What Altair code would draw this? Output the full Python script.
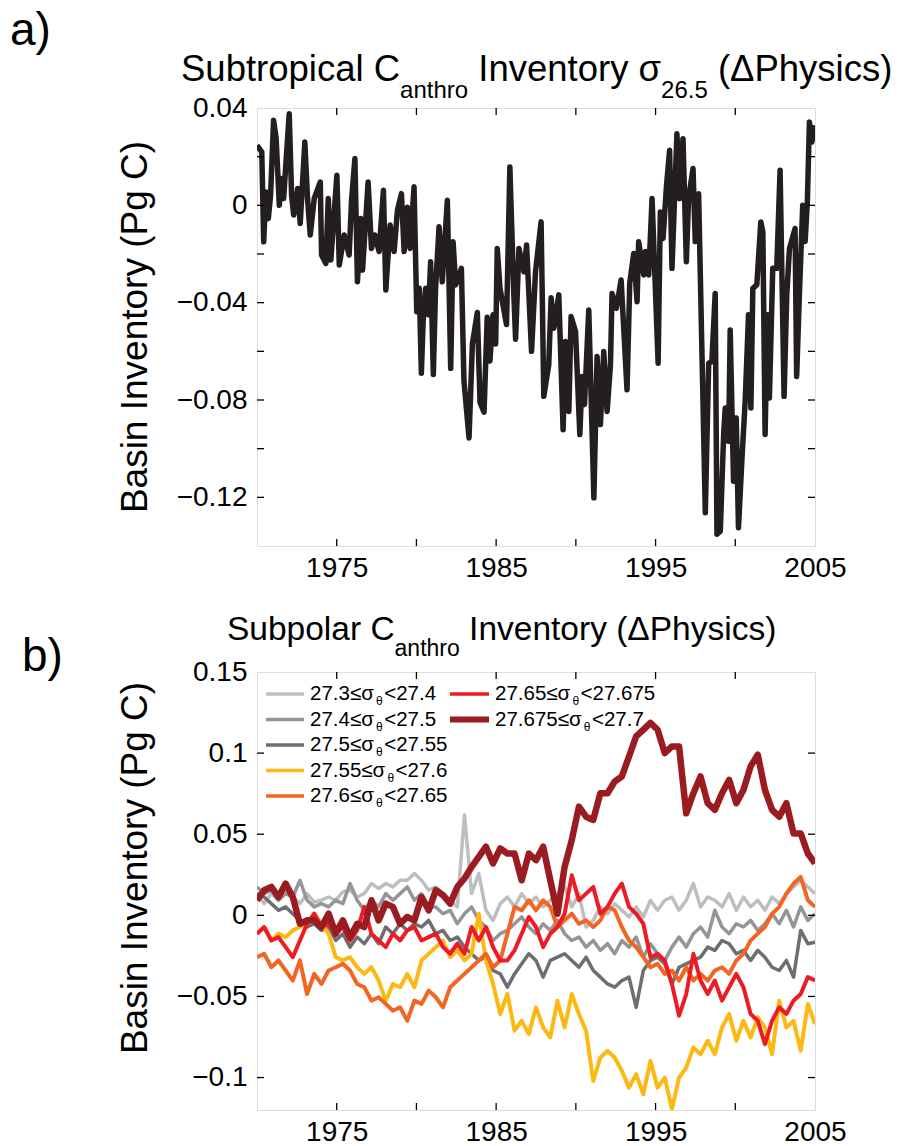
import altair as alt
import pandas as pd

# ---------------- data ----------------
# Panel a: subtropical inventory (time in years, value in Pg C)
YEARS_A = [1970.00, 1970.30, 1970.42, 1970.56, 1970.71, 1970.85, 1971.04, 1971.20, 1971.40, 1971.55,
           1971.67, 1971.82, 1972.02, 1972.17, 1972.30, 1972.55, 1972.71, 1973.00, 1973.17, 1973.34,
           1973.59, 1973.97, 1974.05, 1974.32, 1974.47, 1974.63, 1975.01, 1975.16, 1975.47, 1975.78,
           1975.93, 1976.14, 1976.30, 1976.51, 1976.62, 1976.97, 1977.18, 1977.39, 1977.66, 1977.93,
           1978.08, 1978.35, 1978.60, 1978.81, 1979.06, 1979.23, 1979.43, 1979.60, 1979.85, 1980.02,
           1980.18, 1980.31, 1980.42, 1980.58, 1980.75, 1980.89, 1981.06, 1981.20, 1981.42, 1981.62,
           1981.94, 1982.15, 1982.30, 1982.46, 1982.82, 1982.98, 1983.30, 1983.51, 1983.82, 1983.99,
           1984.24, 1984.44, 1984.61, 1984.80, 1984.97, 1985.07, 1985.24, 1985.65, 1985.86, 1986.11,
           1986.22, 1986.43, 1986.74, 1986.91, 1987.22, 1987.47, 1987.82, 1987.99, 1988.30, 1988.45,
           1988.62, 1988.93, 1989.20, 1989.35, 1989.56, 1989.70, 1989.98, 1990.25, 1990.39, 1990.54,
           1990.81, 1991.13, 1991.33, 1991.54, 1991.75, 1991.96, 1992.17, 1992.27, 1992.54, 1992.84,
           1993.21, 1993.38, 1993.63, 1993.84, 1993.94, 1994.26, 1994.36, 1994.57, 1994.78, 1995.16,
           1995.30, 1995.47, 1995.68, 1995.88, 1996.03, 1996.34, 1996.51, 1996.72, 1996.93, 1997.07,
           1997.35, 1997.49, 1997.70, 1998.12, 1998.33, 1998.53, 1998.74, 1998.85, 1999.06, 1999.27,
           1999.37, 1999.58, 1999.68, 1999.89, 2000.06, 2000.20, 2000.41, 2000.62, 2000.83, 2000.98,
           2001.10, 2001.35, 2001.60, 2001.73, 2001.87, 2002.02, 2002.14, 2002.35, 2002.60, 2002.81,
           2003.06, 2003.23, 2003.40, 2003.75, 2003.85, 2004.02, 2004.23, 2004.38, 2004.52, 2004.65,
           2004.80, 2004.95]
VALS_A = [0.0247, 0.0219, -0.0150, 0.0055, -0.0054, 0.0040, 0.0350, 0.0274, 0.0000, 0.0110,
          0.0028, 0.0178, 0.0376, 0.0042, -0.0040, 0.0069, -0.0075, 0.0260, 0.0028, -0.0122,
          0.0028, 0.0096, -0.0204, -0.0239, 0.0028, -0.0225, 0.0124, -0.0245, -0.0122, -0.0204,
          0.0021, 0.0192, -0.0314, -0.0054, -0.0266, 0.0096, -0.0177, -0.0122, -0.0190, 0.0062,
          -0.0348, -0.0081, -0.0190, -0.0020, 0.0048, -0.0190, -0.0008, -0.0177, 0.0076, -0.0437,
          -0.0341, -0.0690, -0.0478, -0.0341, -0.0450, -0.0232, -0.0695, -0.0341, -0.0088, -0.0314,
          0.0021, -0.0670, -0.0150, -0.0327, -0.0259, -0.0720, -0.0956, -0.0570, -0.0440, -0.0810,
          -0.0850, -0.0460, -0.0640, -0.0450, -0.0570, -0.0177, -0.0341, -0.0490, 0.0158, -0.0368,
          -0.0550, -0.0177, -0.0273, -0.0163, -0.0600, -0.0273, -0.0068, -0.0785, -0.0655, -0.0380,
          -0.0505, -0.0368, -0.0922, -0.0560, -0.0847, -0.0457, -0.0519, -0.0942, -0.0703, -0.0819,
          -0.0430, -0.1202, -0.0621, -0.0901, -0.0601, -0.0847, -0.0655, -0.0362, -0.0423, -0.0307,
          -0.0758, -0.0320, -0.0198, -0.0396, -0.0150, -0.0286, -0.0190, -0.0286, 0.0028, -0.0649,
          -0.0027, -0.0136, 0.0076, 0.0226, -0.0259, 0.0294, 0.0028, 0.0274, -0.0232, 0.0028,
          0.0151, -0.0149, 0.0048, -0.1263, -0.0649, -0.0642, -0.0362, -0.1352, -0.1339, -0.0942,
          -0.0833, -0.0970, -0.0512, -0.1134, -0.0874, -0.1325, -0.1052, -0.0806, -0.0450, -0.0833,
          -0.0341, -0.0327, -0.0068, -0.0109, -0.0942, -0.0450, -0.0792, -0.0259, -0.0259, 0.0144,
          -0.0785, -0.0368, -0.0177, -0.0095, -0.0703, -0.0368, 0.0000, -0.0149, 0.0014, 0.0342,
          0.0260, 0.0330]

# Panel b: subpolar inventory per density class, evenly spaced samples 1970-2005
SIGMA_LO = ["27.3", "27.4", "27.5", "27.55", "27.6", "27.65", "27.675"]
SIGMA_HI = ["27.4", "27.5", "27.55", "27.6", "27.65", "27.675", "27.7"]

B_27_3 = [0.0134, 0.0072, 0.0134, 0.0093, 0.0175, 0.0113, 0.0072, 0.0134, 0.0082, 0.0093,
          0.0113, 0.0093, 0.0144, 0.0155, 0.0113, 0.0134, 0.0196, 0.0165, 0.0196, 0.0175,
          0.0216, 0.0216, 0.0258, 0.0216, 0.0155, 0.0175, 0.0134, 0.0093, 0.0052, 0.0619,
          0.0134, 0.0258, 0.0031, -0.0031, 0.0072, 0.0113, 0.0052, 0.0134, 0.0072, 0.0113,
          0.0052, 0.0093, 0.0134, 0.0175, 0.0052, 0.0134, -0.0072, -0.0031, 0.0052, 0.0010,
          0.0072, 0.0031, -0.0010, 0.0052, -0.0010, 0.0093, 0.0031, 0.0093, 0.0113, 0.0031,
          0.0093, 0.0196, 0.0052, 0.0113, 0.0093, 0.0052, 0.0134, 0.0031, 0.0113, 0.0052,
          0.0093, 0.0031, 0.0113, 0.0072, 0.0134, 0.0175, 0.0216, 0.0175, 0.0134]
B_27_4 = [0.0175, 0.0134, 0.0155, 0.0093, 0.0134, 0.0113, 0.0216, 0.0093, 0.0052, 0.0072,
          0.0052, 0.0093, 0.0072, 0.0196, 0.0093, 0.0031, 0.0093, 0.0052, 0.0134, 0.0093,
          0.0134, 0.0175, 0.0093, 0.0134, 0.0052, 0.0052, 0.0010, 0.0031, -0.0052, 0.0010,
          0.0052, -0.0031, -0.0072, -0.0155, -0.0113, -0.0093, -0.0052, -0.0010, -0.0072, -0.0113,
          -0.0052, -0.0093, -0.0031, -0.0113, -0.0155, -0.0134, -0.0196, -0.0155, -0.0216, -0.0175,
          -0.0237, -0.0155, -0.0196, -0.0134, -0.0258, -0.0175, -0.0237, -0.0278, -0.0196, -0.0134,
          -0.0196, -0.0113, -0.0072, -0.0134, 0.0031, -0.0072, -0.0113, -0.0052, -0.0072, -0.0031,
          -0.0093, -0.0052, 0.0010, -0.0052, 0.0031, -0.0072, 0.0052, -0.0031, 0.0010]
B_27_5 = [0.0134, 0.0113, 0.0072, 0.0031, 0.0052, 0.0010, -0.0031, -0.0072, -0.0052, -0.0093,
          -0.0072, -0.0155, -0.0113, -0.0196, -0.0134, -0.0175, -0.0113, -0.0175, -0.0072, -0.0113,
          -0.0052, -0.0093, -0.0052, -0.0072, -0.0031, -0.0113, -0.0093, -0.0155, -0.0134, -0.0196,
          -0.0237, -0.0278, -0.0258, -0.0340, -0.0361, -0.0443, -0.0361, -0.0299, -0.0237, -0.0278,
          -0.0381, -0.0278, -0.0258, -0.0237, -0.0278, -0.0320, -0.0258, -0.0340, -0.0381, -0.0423,
          -0.0443, -0.0402, -0.0381, -0.0567, -0.0340, -0.0278, -0.0258, -0.0299, -0.0423, -0.0320,
          -0.0299, -0.0278, -0.0258, -0.0196, -0.0216, -0.0155, -0.0175, -0.0237, -0.0216, -0.0278,
          -0.0216, -0.0258, -0.0320, -0.0340, -0.0278, -0.0381, -0.0093, -0.0175, -0.0165]
B_27_55 = [-0.0113, -0.0072, -0.0155, -0.0113, -0.0134, -0.0093, -0.0072, -0.0052, 0.0010, -0.0052,
           -0.0113, -0.0258, -0.0278, -0.0258, -0.0320, -0.0361, -0.0320, -0.0402, -0.0526, -0.0423,
           -0.0443, -0.0361, -0.0443, -0.0278, -0.0237, -0.0196, -0.0155, -0.0258, -0.0216, -0.0278,
           -0.0237, 0.0010, -0.0278, -0.0423, -0.0608, -0.0485, -0.0711, -0.0650, -0.0732, -0.0567,
           -0.0691, -0.0753, -0.0526, -0.0691, -0.0485, -0.0608, -0.0711, -0.1021, -0.0876, -0.0835,
           -0.0876, -0.0959, -0.1062, -0.0979, -0.1103, -0.0897, -0.1062, -0.1000, -0.1196, -0.1000,
           -0.0938, -0.0814, -0.0856, -0.0773, -0.0856, -0.0691, -0.0608, -0.0773, -0.0650, -0.0753,
           -0.0629, -0.0691, -0.0856, -0.0526, -0.0691, -0.0650, -0.0835, -0.0546, -0.0670]
B_27_6 = [-0.0258, -0.0237, -0.0320, -0.0278, -0.0340, -0.0402, -0.0278, -0.0485, -0.0361, -0.0423,
          -0.0340, -0.0320, -0.0299, -0.0340, -0.0423, -0.0443, -0.0526, -0.0505, -0.0546, -0.0588,
          -0.0567, -0.0650, -0.0526, -0.0546, -0.0464, -0.0505, -0.0567, -0.0443, -0.0402, -0.0361,
          -0.0320, -0.0278, -0.0237, -0.0320, -0.0278, -0.0113, 0.0052, 0.0031, 0.0093, 0.0031,
          0.0093, 0.0052, -0.0072, -0.0031, 0.0010, -0.0052, -0.0031, -0.0072, -0.0031, 0.0052,
          0.0031, -0.0072, -0.0155, -0.0196, -0.0258, -0.0320, -0.0299, -0.0361, -0.0340, -0.0402,
          -0.0320, -0.0402, -0.0361, -0.0402, -0.0340, -0.0320, -0.0361, -0.0278, -0.0237, -0.0155,
          -0.0113, -0.0072, 0.0010, 0.0052, 0.0134, 0.0196, 0.0237, 0.0093, 0.0052]
B_27_65 = [-0.0113, -0.0072, -0.0155, -0.0134, -0.0196, -0.0258, -0.0155, -0.0052, 0.0010, -0.0072,
           -0.0052, -0.0113, -0.0072, -0.0155, -0.0093, 0.0052, -0.0113, -0.0155, -0.0196, -0.0113,
           -0.0155, -0.0093, -0.0072, -0.0155, -0.0134, -0.0113, -0.0196, -0.0237, -0.0175, -0.0237,
           -0.0072, -0.0155, -0.0072, -0.0196, -0.0278, -0.0278, -0.0216, -0.0113, -0.0010, -0.0072,
           -0.0196, -0.0113, -0.0072, 0.0010, 0.0247, 0.0093, 0.0134, 0.0175, 0.0010, 0.0052,
           0.0134, 0.0196, 0.0052, 0.0010, -0.0052, -0.0258, -0.0237, -0.0278, -0.0423, -0.0619,
           -0.0485, -0.0237, -0.0402, -0.0485, -0.0402, -0.0526, -0.0443, -0.0361, -0.0443, -0.0608,
           -0.0650, -0.0794, -0.0650, -0.0567, -0.0608, -0.0526, -0.0485, -0.0381, -0.0402]
B_27_675 = [0.0093, 0.0155, 0.0175, 0.0113, 0.0196, 0.0113, -0.0052, -0.0031, -0.0031, -0.0072,
            0.0010, -0.0113, -0.0031, -0.0134, -0.0052, -0.0072, 0.0093, -0.0031, 0.0072, 0.0052,
            -0.0052, -0.0010, -0.0031, 0.0113, 0.0031, 0.0155, 0.0124, 0.0072, 0.0175, 0.0227,
            0.0299, 0.0361, 0.0423, 0.0320, 0.0412, 0.0381, 0.0381, 0.0216, 0.0381, 0.0340,
            0.0423, 0.0216, 0.0010, 0.0299, 0.0464, 0.0670, 0.0608, 0.0588, 0.0753, 0.0753,
            0.0825, 0.0856, 0.0979, 0.1103, 0.1144, 0.1186, 0.1144, 0.1000, 0.1041, 0.1041,
            0.0629, 0.0753, 0.0856, 0.0691, 0.0650, 0.0753, 0.0835, 0.0691, 0.0773, 0.0918,
            0.0990, 0.0773, 0.0650, 0.0608, 0.0691, 0.0505, 0.0505, 0.0381, 0.0320]
SERIES_B = [B_27_3, B_27_4, B_27_5, B_27_55, B_27_6, B_27_65, B_27_675]

X_LABELS = [1975, 1985, 1995, 2005]
X_TICKS = [1975, 1980, 1985, 1990, 1995, 2000]
YA_LABELS = [0.04, 0, -0.04, -0.08, -0.12]
YA_TICKS = [-0.12, -0.10, -0.08, -0.06, -0.04, -0.02, 0.0, 0.02]
YB_LABELS = [0.15, 0.1, 0.05, 0, -0.05, -0.1]
YB_TICKS = [-0.1, -0.05, 0.0, 0.05, 0.1]

# ---------------- styling ----------------
FONT = "Liberation Sans"
LINE_COLORS = ["#BCBEC0", "#939598", "#6D6E71", "#FDB913", "#F26522", "#ED1C24", "#9B1C20"]
LINE_WIDTHS = [3.5, 3.5, 3.5, 4, 4, 4, 6.5]
W, H = 558, 438
TICK = 7
LABEL_SIZE = 28
ONE = pd.DataFrame({"k": [0]})

CW = {' ': 278, '(': 333, ')': 333, '.': 278, '<': 584, '\u2264': 584, 'C': 722, 'I': 278,
      'P': 667, 'S': 667, '\u0394': 668, 'a': 556, 'b': 556, 'c': 500, 'e': 556, 'h': 556,
      'i': 222, 'l': 222, 'n': 556, 'o': 556, 'p': 556, 'r': 333, 's': 500, 't': 278,
      'u': 556, 'v': 500, 'y': 500, '\u03c3': 617, '\u03b8': 556}


def tw(s, size):
    return sum(CW.get(ch, 556) for ch in s) * size / 1000.0


def text_layer(s, x, y, size, align="left", baseline="alphabetic", angle=0, font=FONT):
    return alt.Chart(ONE).mark_text(
        text=s, align=align, baseline=baseline, fontSize=size, font=font,
        color="black", angle=angle
    ).encode(x=alt.value(x), y=alt.value(y))


def rich(pieces, x0, y, size, subsize, subdy, baseline="alphabetic", gap=0.0):
    layers = []
    x = x0
    for s, sub in pieces:
        sz = subsize if sub else size
        body = s.lstrip(" ")
        x += tw(s[: len(s) - len(body)], sz)
        if sub:
            x += gap
        layers.append(text_layer(body, x, y + (subdy if sub else 0), sz, baseline=baseline))
        x += tw(body, sz)
        if sub:
            x += gap
    return layers


xs = alt.Scale(domain=[1970, 2005], nice=False, zero=False)
axX = alt.Axis(values=X_LABELS, format="d", title=None, ticks=False, domain=False, grid=False,
               labelFontSize=LABEL_SIZE, labelFont=FONT, labelColor="black", labelPadding=8,
               labelFlush=False)


def y_axis(vals):
    return alt.Axis(values=vals, format=".2~f", title=None, ticks=False, domain=False, grid=False,
                    labelFontSize=LABEL_SIZE, labelFont=FONT, labelColor="black", labelPadding=10)


def tick_layers(ys, axY, yticks):
    dx = pd.DataFrame({"t": X_TICKS})
    dy = pd.DataFrame({"t": yticks})
    base_x = alt.X("t:Q", scale=xs, axis=axX)
    base_y = alt.Y("t:Q", scale=ys, axis=axY)
    return [
        alt.Chart(dx).mark_rule(color="black", strokeWidth=1.3).encode(
            x=base_x, y=alt.value(H), y2=alt.value(H - TICK)),
        alt.Chart(dx).mark_rule(color="black", strokeWidth=1.3).encode(
            x=base_x, y=alt.value(0), y2=alt.value(TICK)),
        alt.Chart(dy).mark_rule(color="black", strokeWidth=1.3).encode(
            y=base_y, x=alt.value(0), x2=alt.value(TICK)),
        alt.Chart(dy).mark_rule(color="black", strokeWidth=1.3).encode(
            y=base_y, x=alt.value(W), x2=alt.value(W - TICK)),
    ]


# ---------------- panel a ----------------
ysA = alt.Scale(domain=[-0.14, 0.04], nice=False, zero=False)
axYA = y_axis(YA_LABELS)
dfA = pd.DataFrame({"year": YEARS_A, "v": VALS_A})
lineA = alt.Chart(dfA).mark_line(color="#231F20", strokeWidth=5.5, strokeJoin="round", clip=True).encode(
    x=alt.X("year:Q", scale=xs, axis=axX), y=alt.Y("v:Q", scale=ysA, axis=axYA))

layersA = [lineA] + tick_layers(ysA, axYA, YA_TICKS)
layersA += rich([("Subtropical C", False), ("anthro", True), (" Inventory \u03c3", False),
                 ("26.5", True), (" (\u0394Physics)", False)], -76, -27, 36.5, 24, 17)
layersA.append(text_layer("Basin Inventory (Pg C)", -121, H / 2, 37, align="center",
                          baseline="middle", angle=270))
layersA.append(text_layer("a)", -247, -99, 46, baseline="top",
                          font="Liberation Sans Narrow, Liberation Sans"))
panelA = alt.layer(*layersA).properties(width=W, height=H)

# ---------------- panel b ----------------
ysB = alt.Scale(domain=[-0.12, 0.15], nice=False, zero=False)
axYB = y_axis(YB_LABELS)
layersB = []
for vals, col, sw in zip(SERIES_B, LINE_COLORS, LINE_WIDTHS):
    n = len(vals)
    df = pd.DataFrame({"year": [1970 + 35.0 * i / (n - 1) for i in range(n)], "v": vals})
    layersB.append(alt.Chart(df).mark_line(color=col, strokeWidth=sw, strokeJoin="round", clip=True).encode(
        x=alt.X("year:Q", scale=xs, axis=axX), y=alt.Y("v:Q", scale=ysB, axis=axYB)))
layersB += tick_layers(ysB, axYB, YB_TICKS)

# legend (two columns, drawn by hand because of the subscripts)
ROWS = [22, 47.5, 73, 98.5, 124]
for i, (lo, hi) in enumerate(zip(SIGMA_LO, SIGMA_HI)):
    if i < 5:
        lx1, lx2, tx, ry = 9, 47, 53, ROWS[i]
    else:
        lx1, lx2, tx, ry = 193, 232, 238, ROWS[i - 5]
    lw = 6 if i == 6 else 3.5
    layersB.append(alt.Chart(ONE).mark_rule(color=LINE_COLORS[i], strokeWidth=lw).encode(
        x=alt.value(lx1), x2=alt.value(lx2), y=alt.value(ry)))
    layersB += rich([(lo + "\u2264\u03c3", False), ("\u03b8", True), ("<" + hi, False)],
                    tx, ry, 20.5, 12, 7, baseline="middle", gap=1.5)

layersB += rich([("Subpolar C", False), ("anthro", True), (" Inventory (\u0394Physics)", False)],
                -30, -32, 33.5, 23, 16)
layersB.append(text_layer("Basin Inventory (Pg C)", -121, 196, 37, align="center",
                          baseline="middle", angle=270))
layersB.append(text_layer("b)", -235, -37, 46, baseline="top",
                          font="Liberation Sans Narrow, Liberation Sans"))
panelB = alt.layer(*layersB).properties(width=W, height=H)

chart = alt.vconcat(panelA, panelB, spacing=126, bounds="flush").properties(
    padding={"left": 9, "top": 7, "right": 2, "bottom": 2},
    background="white",
).configure_view(stroke="black", strokeWidth=1.5).configure(font=FONT)

chart.save("out.html", embed_options={"renderer": "svg", "actions": False})
